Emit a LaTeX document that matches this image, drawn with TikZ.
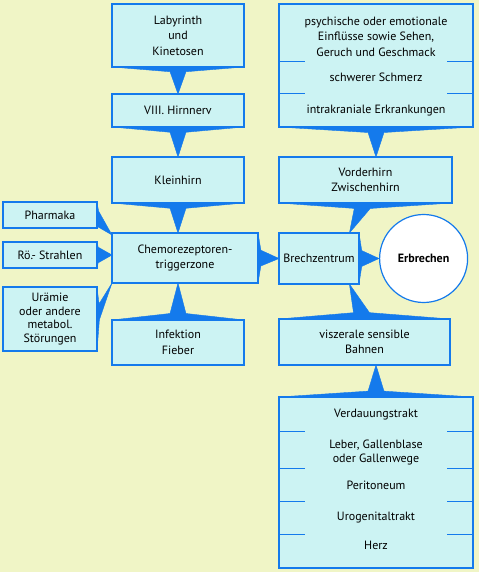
\documentclass[tikz,border=0pt]{standalone}
\usepackage{fontspec}
\setmainfont{PT Sans}
\usetikzlibrary{positioning,calc}

\definecolor{bgyellow}{RGB}{240,245,198}
\definecolor{boxcyan}{RGB}{204,243,243}
\definecolor{linkblue}{RGB}{20,122,236}

% tapered connector: base edge #1--#2, tip #3
\newcommand\funnel[3]{%
  \coordinate (fm) at ($(#1)!0.5!(#2)!0.2!(#3)$);
  \fill[funnel] (#1) -- ($(fm)!8pt!(#1)$) -- (#3) -- ($(fm)!8pt!(#2)$) -- (#2) -- cycle;}

\begin{document}
\begin{tikzpicture}[
  node distance=30pt and 15pt,
  box/.style={draw=linkblue, line width=1.6pt, fill=boxcyan, align=center, outer sep=0pt,
    inner xsep=2pt, minimum width=132pt, font=\fontsize{12}{15.5}\selectfont},
  part/.style={align=center, inner sep=0pt, minimum width=194pt, font=\fontsize{12}{15.5}\selectfont},
  stub/.style={draw=linkblue, line width=0.8pt},
  funnel/.style={fill=linkblue, draw=linkblue, line width=0.4pt, line join=round}
]
\fill[bgyellow] (0,0) rectangle (479pt,-572pt);
\useasboundingbox (0,0) rectangle (479pt,-572pt);

% left column
\node[box, minimum height=63pt, anchor=north west] (lab) at (112pt,-4pt) {Labyrinth\\und\\Kinetosen};
\node[box, minimum height=33pt, below=27pt of lab] (viii) {VIII. Hirnnerv};
\node[box, minimum height=46pt, below=of viii] (klein) {Kleinhirn};
\node[box, minimum height=50pt, minimum width=146pt, below=30pt of klein.south west, anchor=north west] (chemo) {Chemorezeptoren-\\triggerzone};
\node[box, minimum height=45pt, below=37pt of chemo.south west, anchor=north west] (inf) {Infektion\\Fieber};
\node[box, minimum height=26pt, minimum width=94pt, above left=5pt and 15pt of chemo.north west] (pharm) {Pharmaka};
\node[box, minimum height=26pt, minimum width=94pt, left=15pt of chemo, yshift=3pt] (roe) {Rö.- Strahlen};
\node[box, minimum height=64pt, minimum width=94pt, below left=4pt and 15pt of chemo.south west,
  font=\fontsize{12}{13.5}\selectfont] (uraem) {Urämie\\oder andere\\metabol.\\Störungen};

% right column
\node[box, minimum height=123pt, minimum width=194pt, right=35pt of lab.north east, anchor=north west] (causes) {};
\node[part, minimum height=49pt, below=8pt of causes.north] (psych) {psychische oder emotionale\\Einflüsse sowie Sehen,\\Geruch und Geschmack};
\node[part, minimum height=32pt, below=0pt of psych] (pain) {schwerer Schmerz};
\node[part, minimum height=34pt, below=0pt of pain] (cranial) {intrakraniale Erkrankungen};
\node[box, minimum height=46pt, minimum width=173pt, below=30pt of causes.south west, anchor=north west] (vorder) {Vorderhirn\\Zwischenhirn};
\node[box, minimum height=51pt, minimum width=80pt, below=30pt of vorder.south west, anchor=north west] (brech) {Brechzentrum};
\node[circle, draw=linkblue, line width=1.2pt, fill=white, minimum size=88pt, right=20pt of brech,
  font=\fontsize{12}{15.5}\selectfont\bfseries] (erb) {Erbrechen};
\node[box, minimum height=46pt, minimum width=171pt, below=35pt of brech.south west, anchor=north west] (visz) {viszerale sensible\\Bahnen};
\node[box, minimum height=171pt, minimum width=194pt, below=32pt of visz.south west, anchor=north west] (organs) {};
\node[part, minimum height=34pt, below=0pt of organs.north] (digest) {Verdauungstrakt};
\node[part, minimum height=33pt, below=4pt of digest, font=\fontsize{12}{14}\selectfont] (liver) {Leber, Gallenblase\\oder Gallenwege};
\node[part, minimum height=32pt, below=0pt of liver] (perit) {Peritoneum};
\node[part, minimum height=33pt, below=0pt of perit] (uro) {Urogenitaltrakt};
\node[part, minimum height=22pt, below=0pt of uro] (heart) {Herz};

% section stubs
\foreach \sec in {psych,pain,digest,liver,perit,uro} {
  \draw[stub] (\sec.south west) -- ++(26pt,0);
  \draw[stub] (\sec.south east) -- ++(-26pt,0);
}

% connectors
\coordinate (kleinTip) at (klein.south |- chemo.north);
\coordinate (infTip) at (inf.north |- chemo.south);
\coordinate (pharmTip) at ([yshift=-2pt]chemo.north west);
\coordinate (roeTip) at (roe.east -| chemo.west);
\coordinate (causesTip) at (causes.south |- vorder.north);
\coordinate (vorderTip) at ($(brech.north west)!0.88!(brech.north east)$);
\coordinate (viszTip) at ($(brech.south west)!0.88!(brech.south east)$);
\coordinate (organsTip) at (organs.north |- visz.south);
\funnel{lab.south west}{lab.south east}{viii.north}
\funnel{viii.south west}{viii.south east}{klein.north}
\funnel{klein.south west}{klein.south east}{kleinTip}
\funnel{inf.north west}{inf.north east}{infTip}
\funnel{pharm.north east}{pharm.south east}{pharmTip}
\funnel{roe.north east}{roe.south east}{roeTip}
\funnel{uraem.north east}{uraem.south east}{chemo.south west}
\funnel{chemo.north east}{chemo.south east}{brech.west}
\funnel{causes.south west}{causes.south east}{causesTip}
\funnel{vorder.south west}{vorder.south east}{vorderTip}
\funnel{visz.north west}{visz.north east}{viszTip}
\funnel{organs.north west}{organs.north east}{organsTip}
\funnel{brech.north east}{brech.south east}{erb.west}
\end{tikzpicture}
\end{document}
